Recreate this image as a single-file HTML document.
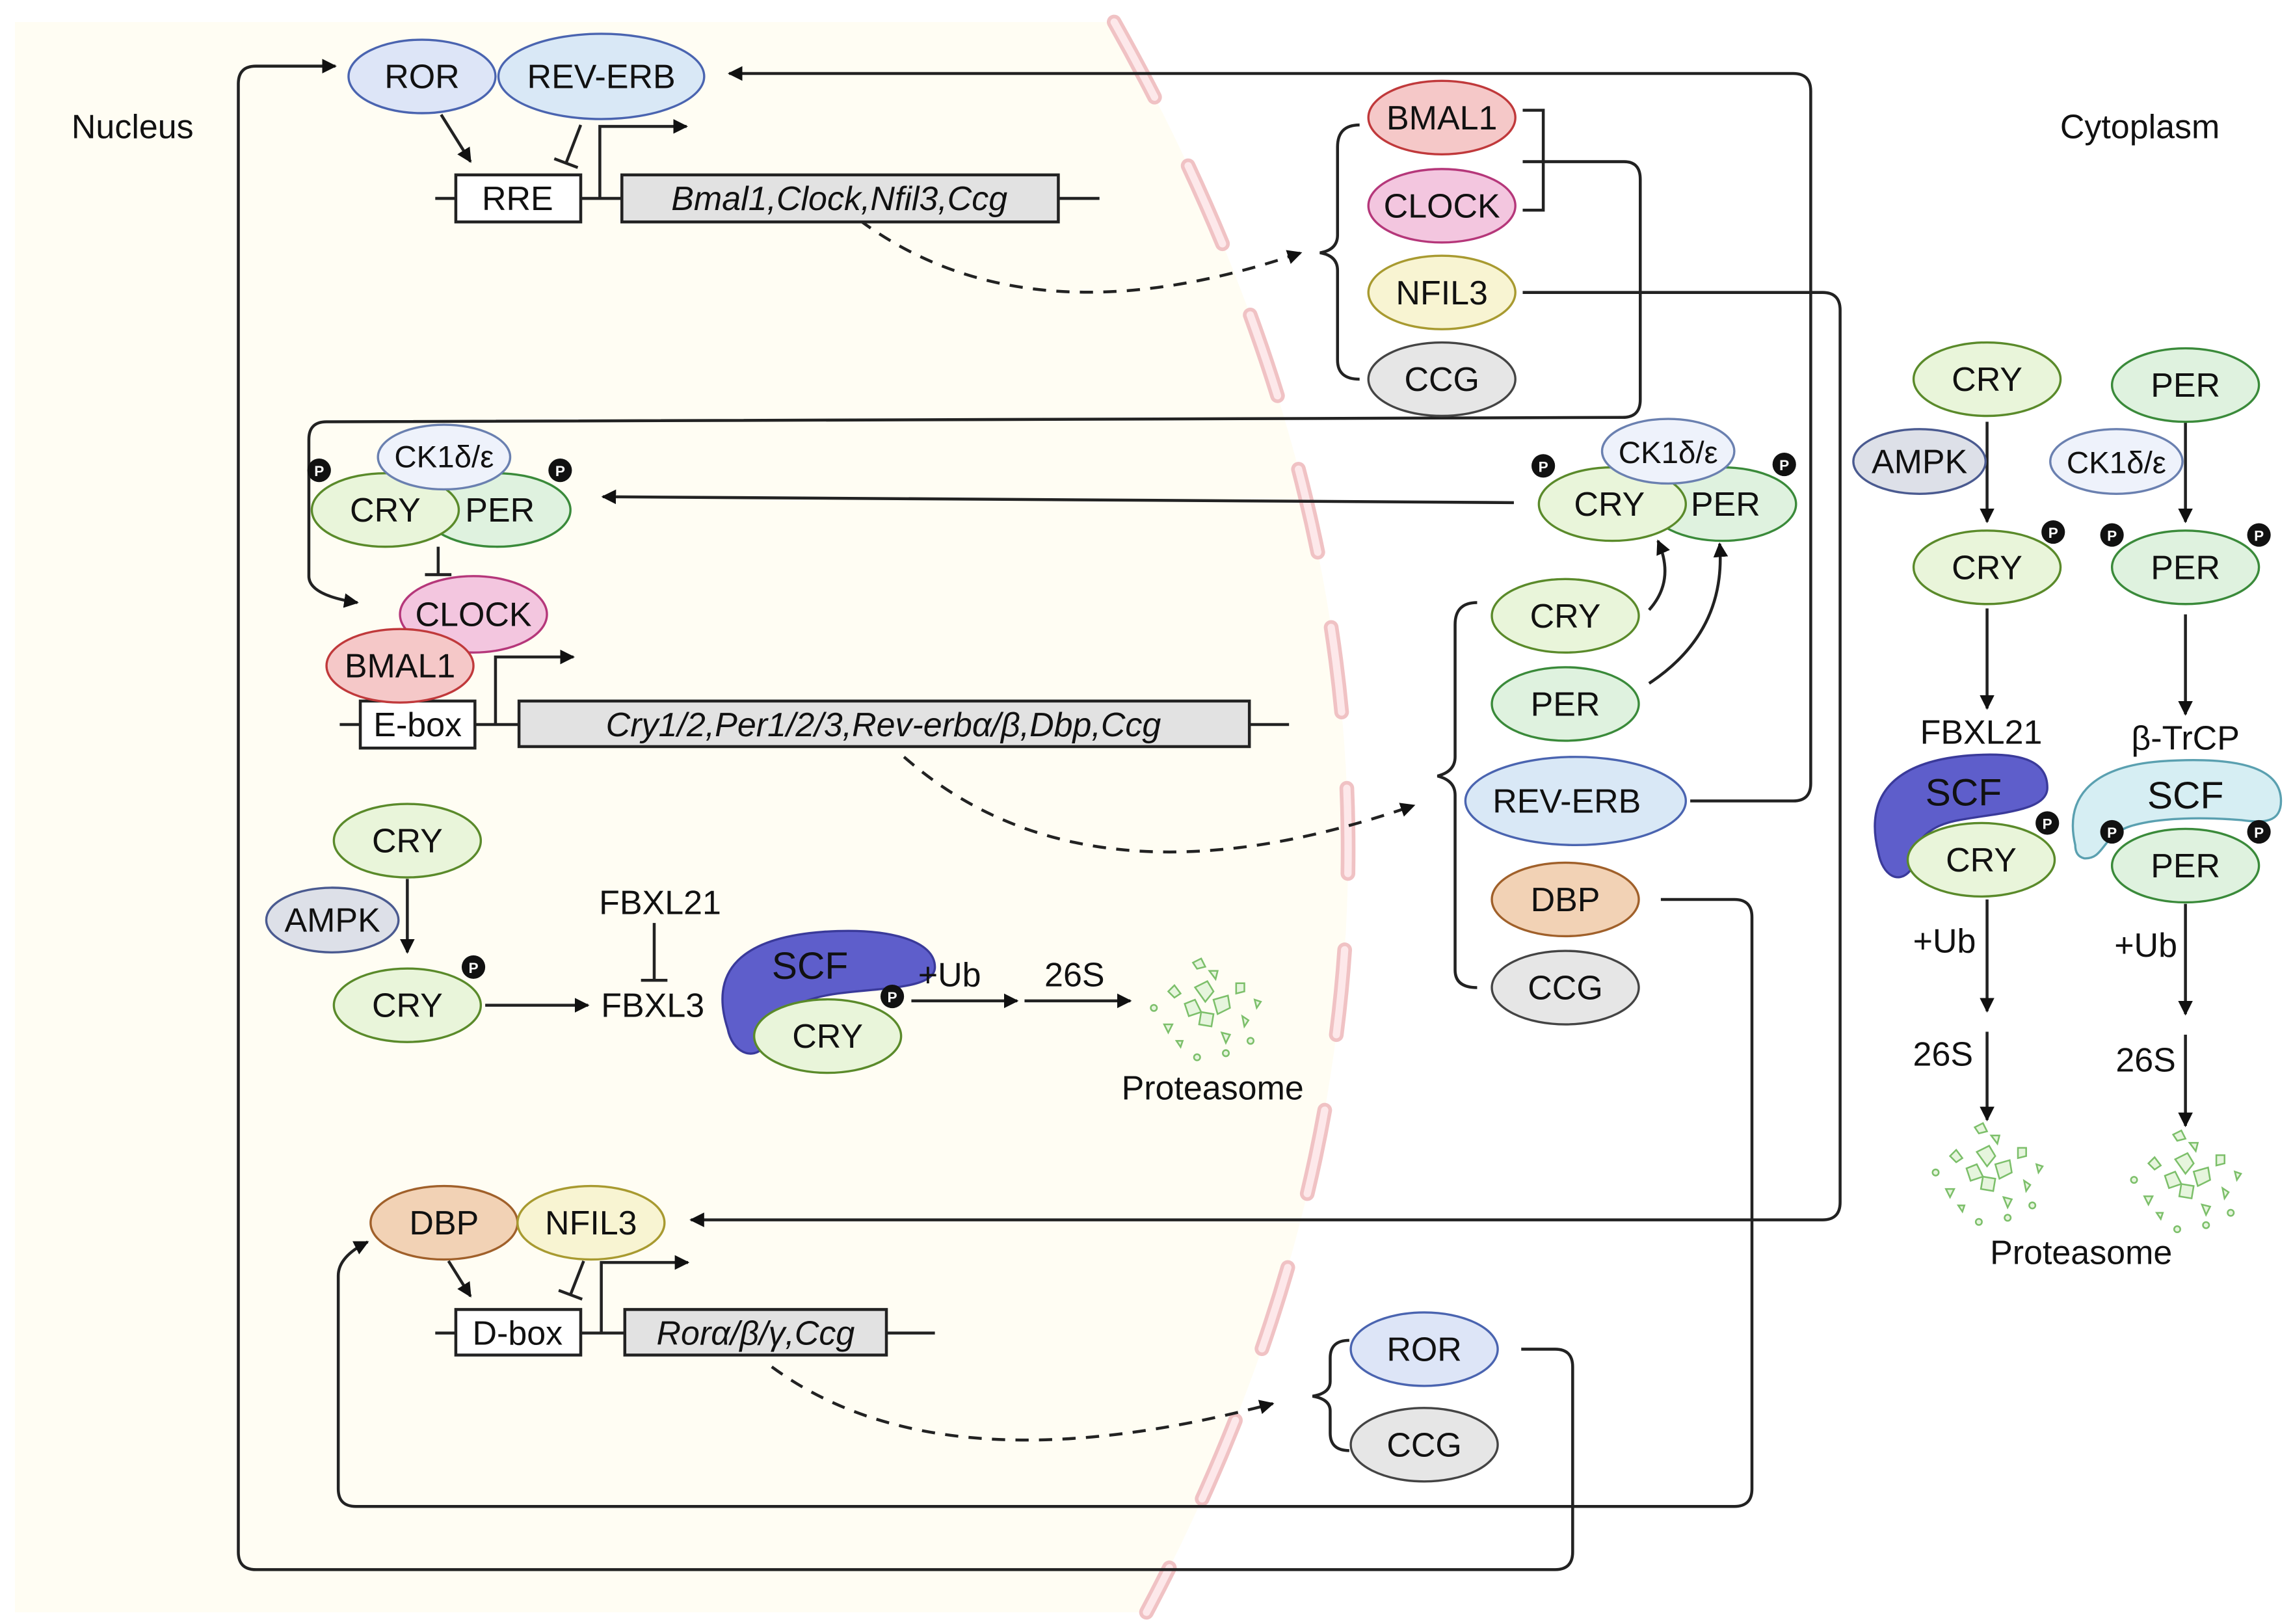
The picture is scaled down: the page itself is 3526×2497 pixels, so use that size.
<!DOCTYPE html>
<html><head><meta charset="utf-8"><style>html,body{margin:0;padding:0;background:#fff}svg{display:block}text{font-family:"Liberation Sans",sans-serif;fill:#111}</style></head>
<body>
<svg width="3526" height="2497" viewBox="0 0 1560 1105" xmlns="http://www.w3.org/2000/svg">
<defs>
<marker id="ah" viewBox="0 0 10 10" refX="9" refY="5" markerWidth="5" markerHeight="5" orient="auto-start-reverse"><path d="M0,0 L10,5 L0,10 Z" fill="#111"/></marker>
<g id="prot" fill="#e6f5dd" stroke="#7cbf6a" stroke-width="0.8">
<path d="M-5,-8 l6,-3 l3,5 l-4,5 z"/><path d="M4,-2 l7,-2 l1,6 l-6,3 z"/><path d="M-10,0 l5,-2 l3,6 l-6,2 z"/><path d="M-2,4 l6,1 l-1,6 l-6,-1 z"/><path d="M-18,-6 l3,-3 l3,4 l-3,2 z"/><path d="M15,-10 l4,0 l0,4 l-4,1 z"/><path d="M18,6 l3,2 l-2,3 z"/><path d="M-20,10 l4,0 l-2,4 z"/><path d="M-6,-20 l4,-2 l2,4 l-4,1 z"/><path d="M8,14 l4,1 l-2,4 z"/><path d="M-14,18 l3,0 l-1,3 z"/><path d="M24,-2 l3,1 l-2,3 z"/><path d="M2,-16 l4,0 l-1,4 z"/><circle cx="-25" cy="2" r="1.5"/><circle cx="10" cy="24" r="1.5"/><circle cx="-4" cy="26" r="1.5"/><circle cx="22" cy="18" r="1.5"/>
</g>
</defs>
<path d="M10,15 L758,15 Q1065,560 780,1097 L10,1097 Z" fill="#fffdf3"/>
<path d="M758,15 Q1065,560 780,1097" fill="none" stroke="#f0c2c4" stroke-width="10" stroke-linecap="round" stroke-dasharray="58 52"/>
<path d="M758,15 Q1065,560 780,1097" fill="none" stroke="#fde8ea" stroke-width="5" stroke-linecap="round" stroke-dasharray="58 52"/>

<text x="90" y="94" font-size="23" text-anchor="middle">Nucleus</text>
<text x="1456" y="94" font-size="23" text-anchor="middle">Cytoplasm</text>

<g fill="none" stroke="#222" stroke-width="2">
<path d="M1036,110 L1105,110 Q1116,110 1116,122 L1116,272 Q1116,284 1104,284 L222,287 Q210,287 210,299 L210,392 Q210,405 243,410" marker-end="url(#ah)"/>
<path d="M1036,199 L1240,199 Q1252,199 1252,211 L1252,818 Q1252,830 1240,830 L470,830" marker-end="url(#ah)"/>
<path d="M1150,545 L1220,545 Q1232,545 1232,533 L1232,62 Q1232,50 1220,50 L496,50" marker-end="url(#ah)"/>
<path d="M1130,612 L1180,612 Q1192,612 1192,624 L1192,1013 Q1192,1025 1180,1025 L242,1025 Q230,1025 230,1013 L230,868 Q230,855 250,845" marker-end="url(#ah)"/>
<path d="M1035,918 L1058,918 Q1070,918 1070,930 L1070,1056 Q1070,1068 1058,1068 L174,1068 Q162,1068 162,1056 L162,57 Q162,45 174,45 L228,45" marker-end="url(#ah)"/>
<path d="M1036,75 L1050,75 L1050,143 L1036,143"/>
<path d="M925,85 Q910,85 910,100 L910,160 Q910,170 898,172 Q910,174 910,184 L910,245 Q910,258 925,258"/>
<path d="M1005,410 Q990,410 990,425 L990,515 Q990,525 978,528 Q990,531 990,541 L990,660 Q990,672 1005,672"/>
<path d="M918,912 Q905,912 905,924 L905,940 Q905,948 893,950 Q905,952 905,960 L905,975 Q905,987 918,987"/>
<path d="M296,135 L310,135 M395,135 L423,135 M720,135 L748,135"/>
<path d="M408,135 L408,86 L467,86" marker-end="url(#ah)"/>
<path d="M300,78 L320,110" marker-end="url(#ah)"/>
<path d="M395,85 L385,111 M377,108 L393,114"/>
<path d="M585,150 Q700,235 885,172" stroke-dasharray="9 7" marker-end="url(#ah)"/>
<path d="M231,493 L245,493 M323,493 L353,493 M850,493 L877,493"/>
<path d="M337,493 L337,447 L390,447" marker-end="url(#ah)"/>
<path d="M298,372 L298,391 M289,391 L307,391"/>
<path d="M1030,342 L410,338" marker-end="url(#ah)"/>
<path d="M1122,415 Q1140,395 1128,368" marker-end="url(#ah)"/>
<path d="M1122,465 Q1175,430 1170,370" marker-end="url(#ah)"/>
<path d="M615,515 Q740,625 962,548" stroke-dasharray="9 7" marker-end="url(#ah)"/>
<path d="M277,598 L277,648" marker-end="url(#ah)"/>
<path d="M330,684 L400,684" marker-end="url(#ah)"/>
<path d="M445,628 L445,667 M436,667 L454,667"/>
<path d="M620,681 L692,681" marker-end="url(#ah)"/>
<path d="M697,681 L769,681" marker-end="url(#ah)"/>
<path d="M296,907 L310,907 M395,907 L425,907 M603,907 L636,907"/>
<path d="M409,907 L409,859 L468,859" marker-end="url(#ah)"/>
<path d="M305,858 L320,882" marker-end="url(#ah)"/>
<path d="M397,858 L388,881 M380,878 L396,884"/>
<path d="M525,930 Q640,1015 866,955" stroke-dasharray="9 7" marker-end="url(#ah)"/>
<path d="M1352,287 L1352,355" marker-end="url(#ah)"/>
<path d="M1352,414 L1352,482" marker-end="url(#ah)"/>
<path d="M1352,612 L1352,688" marker-end="url(#ah)"/>
<path d="M1352,702 L1352,762" marker-end="url(#ah)"/>
<path d="M1487,287 L1487,355" marker-end="url(#ah)"/>
<path d="M1487,418 L1487,486" marker-end="url(#ah)"/>
<path d="M1487,615 L1487,690" marker-end="url(#ah)"/>
<path d="M1487,704 L1487,766" marker-end="url(#ah)"/>
</g>

<g stroke="#222" stroke-width="2">
<rect x="310" y="119" width="85" height="32" fill="#fff"/>
<rect x="423" y="119" width="297" height="32" fill="#e2e2e2"/>
<rect x="245" y="477" width="78" height="32" fill="#fff"/>
<rect x="353" y="477" width="497" height="31" fill="#e2e2e2"/>
<rect x="310" y="891" width="85" height="31" fill="#fff"/>
<rect x="425" y="891" width="178" height="31" fill="#e2e2e2"/>
</g>
<g font-size="23" text-anchor="middle">
<text x="352" y="143">RRE</text>
<text x="571" y="143" font-style="italic">Bmal1,Clock,Nfil3,Ccg</text>
<text x="284" y="501">E-box</text>
<text x="601" y="501" font-style="italic">Cry1/2,Per1/2/3,Rev-erbα/β,Dbp,Ccg</text>
<text x="352" y="915">D-box</text>
<text x="514" y="915" font-style="italic">Rorα/β/γ,Ccg</text>
</g>

<path d="M495,700 C482,660 505,638 560,634 C605,631 636,640 636,658 C636,673 600,672 570,676 C540,680 522,692 520,712 C512,722 498,716 495,700 Z" fill="#5e5ecb" stroke="#3a3a9a" stroke-width="1.5"/>
<path d="M1278,580 C1268,540 1290,518 1340,514 C1380,511 1393,520 1393,536 C1393,552 1360,553 1333,558 C1310,562 1300,575 1300,592 C1292,602 1281,596 1278,580 Z" fill="#5e5ecb" stroke="#3a3a9a" stroke-width="1.5"/>
<path d="M1412,575 C1405,545 1420,522 1470,518 C1530,514 1552,525 1552,545 C1552,560 1540,560 1525,558 C1500,556 1470,556 1450,562 C1430,568 1432,585 1418,584 C1414,583 1412,580 1412,575 Z" fill="#d6eef3" stroke="#5aa0b0" stroke-width="1.5"/>

<g stroke-width="1.5" font-size="23">
<g stroke="#4a64b0"><ellipse cx="287" cy="52" rx="50" ry="25" fill="#dde5f7"/><ellipse cx="409" cy="52" rx="70" ry="29" fill="#d9e8f6"/>
<ellipse cx="1072" cy="545" rx="75" ry="30" fill="#d9e8f6"/><ellipse cx="969" cy="918" rx="50" ry="25" fill="#dde5f7"/></g>
<ellipse cx="981" cy="80" rx="50" ry="25" fill="#f5c8c8" stroke="#c0393b"/>
<ellipse cx="981" cy="140" rx="50" ry="25" fill="#f3c6df" stroke="#b5377a"/>
<ellipse cx="981" cy="199" rx="50" ry="25" fill="#f8f4d2" stroke="#a89a30"/>
<ellipse cx="981" cy="258" rx="50" ry="25" fill="#e6e6e6" stroke="#444"/>
<ellipse cx="322" cy="418" rx="50" ry="26" fill="#f3c6df" stroke="#b5377a"/>
<ellipse cx="272" cy="453" rx="50" ry="25" fill="#f5c8c8" stroke="#c0393b"/>
<g fill="#e9f5da" stroke="#5a8a2a">
<ellipse cx="338" cy="347" rx="50" ry="25" fill="#dff2df" stroke="#3a8a3a"/>
<ellipse cx="262" cy="347" rx="50" ry="25"/>
<ellipse cx="1172" cy="343" rx="50" ry="25" fill="#dff2df" stroke="#3a8a3a"/>
<ellipse cx="1097" cy="343" rx="50" ry="25"/>
<ellipse cx="1065" cy="419" rx="50" ry="25"/>
<ellipse cx="1065" cy="479" rx="50" ry="25" fill="#dff2df" stroke="#3a8a3a"/>
<ellipse cx="277" cy="572" rx="50" ry="25"/>
<ellipse cx="277" cy="684" rx="50" ry="25"/>
<ellipse cx="563" cy="705" rx="50" ry="25"/>
<ellipse cx="1352" cy="258" rx="50" ry="25"/>
<ellipse cx="1352" cy="386" rx="50" ry="25"/>
<ellipse cx="1348" cy="585" rx="50" ry="25"/>
<ellipse cx="1487" cy="262" rx="50" ry="25" fill="#dff2df" stroke="#3a8a3a"/>
<ellipse cx="1487" cy="386" rx="50" ry="25" fill="#dff2df" stroke="#3a8a3a"/>
<ellipse cx="1487" cy="589" rx="50" ry="25" fill="#dff2df" stroke="#3a8a3a"/>
</g>
<g fill="#eef2fb" stroke="#6a80b0">
<ellipse cx="302" cy="311" rx="45" ry="22"/><ellipse cx="1135" cy="307" rx="45" ry="22"/><ellipse cx="1440" cy="314" rx="45" ry="22"/>
</g>
<g fill="#dde0e8" stroke="#4a5a90"><ellipse cx="226" cy="626" rx="45" ry="22"/><ellipse cx="1306" cy="314" rx="45" ry="22"/></g>
<ellipse cx="1065" cy="612" rx="50" ry="25" fill="#f2d2b5" stroke="#a0602a"/>
<ellipse cx="1065" cy="672" rx="50" ry="25" fill="#e6e6e6" stroke="#444"/>
<ellipse cx="969" cy="983" rx="50" ry="25" fill="#e6e6e6" stroke="#444"/>
<ellipse cx="302" cy="832" rx="50" ry="25" fill="#f2d2b5" stroke="#a0602a"/>
<ellipse cx="402" cy="832" rx="50" ry="25" fill="#f8f4d2" stroke="#a89a30"/>
</g>

<g font-size="23" text-anchor="middle">
<text x="287" y="60">ROR</text><text x="409" y="60">REV-ERB</text>
<text x="981" y="88">BMAL1</text><text x="981" y="148">CLOCK</text><text x="981" y="207">NFIL3</text><text x="981" y="266">CCG</text>
<text x="302" y="318" font-size="21">CK1δ/ε</text><text x="262" y="355">CRY</text><text x="340" y="355">PER</text>
<text x="322" y="426">CLOCK</text><text x="272" y="461">BMAL1</text>
<text x="1135" y="315" font-size="21">CK1δ/ε</text><text x="1095" y="351">CRY</text><text x="1174" y="351">PER</text>
<text x="1065" y="427">CRY</text><text x="1065" y="487">PER</text><text x="1066" y="553">REV-ERB</text>
<text x="1065" y="620">DBP</text><text x="1065" y="680">CCG</text>
<text x="277" y="580">CRY</text><text x="226" y="634">AMPK</text><text x="277" y="692">CRY</text>
<text x="449" y="622">FBXL21</text><text x="444" y="692">FBXL3</text>
<text x="551" y="666" font-size="26">SCF</text><text x="563" y="713">CRY</text>
<text x="646" y="671">+Ub</text><text x="731" y="671">26S</text><text x="825" y="748">Proteasome</text>
<text x="302" y="840">DBP</text><text x="402" y="840">NFIL3</text>
<text x="969" y="926">ROR</text><text x="969" y="991">CCG</text>
<text x="1352" y="266">CRY</text><text x="1306" y="322">AMPK</text><text x="1352" y="394">CRY</text>
<text x="1348" y="506">FBXL21</text><text x="1336" y="548" font-size="26">SCF</text><text x="1348" y="593">CRY</text>
<text x="1323" y="648">+Ub</text><text x="1322" y="725">26S</text>
<text x="1487" y="270">PER</text><text x="1440" y="322" font-size="21">CK1δ/ε</text><text x="1487" y="394">PER</text>
<text x="1487" y="510">β-TrCP</text><text x="1487" y="550" font-size="26">SCF</text><text x="1487" y="597">PER</text>
<text x="1460" y="651">+Ub</text><text x="1460" y="729">26S</text>
<text x="1416" y="860">Proteasome</text>
</g>

<g fill="#111">
<circle cx="217" cy="320" r="8"/><circle cx="381" cy="320" r="8"/><circle cx="1050" cy="317" r="8"/><circle cx="1214" cy="316" r="8"/>
<circle cx="322" cy="658" r="8"/><circle cx="607" cy="678" r="8"/><circle cx="1397" cy="362" r="8"/><circle cx="1393" cy="560" r="8"/>
<circle cx="1437" cy="364" r="8"/><circle cx="1537" cy="364" r="8"/><circle cx="1437" cy="566" r="8"/><circle cx="1537" cy="566" r="8"/>
</g>
<g font-size="10" text-anchor="middle" font-weight="bold" style="fill:#fff">
<text x="217" y="324" style="fill:#fff">P</text><text x="381" y="324" style="fill:#fff">P</text><text x="1050" y="321" style="fill:#fff">P</text><text x="1214" y="320" style="fill:#fff">P</text>
<text x="322" y="662" style="fill:#fff">P</text><text x="607" y="682" style="fill:#fff">P</text><text x="1397" y="366" style="fill:#fff">P</text><text x="1393" y="564" style="fill:#fff">P</text>
<text x="1437" y="368" style="fill:#fff">P</text><text x="1537" y="368" style="fill:#fff">P</text><text x="1437" y="570" style="fill:#fff">P</text><text x="1537" y="570" style="fill:#fff">P</text>
</g>

<use href="#prot" transform="translate(820,683) scale(1.4)"/>
<use href="#prot" transform="translate(1352,795) scale(1.4)"/>
<use href="#prot" transform="translate(1487,800) scale(1.4)"/>
</svg>
</body></html>
